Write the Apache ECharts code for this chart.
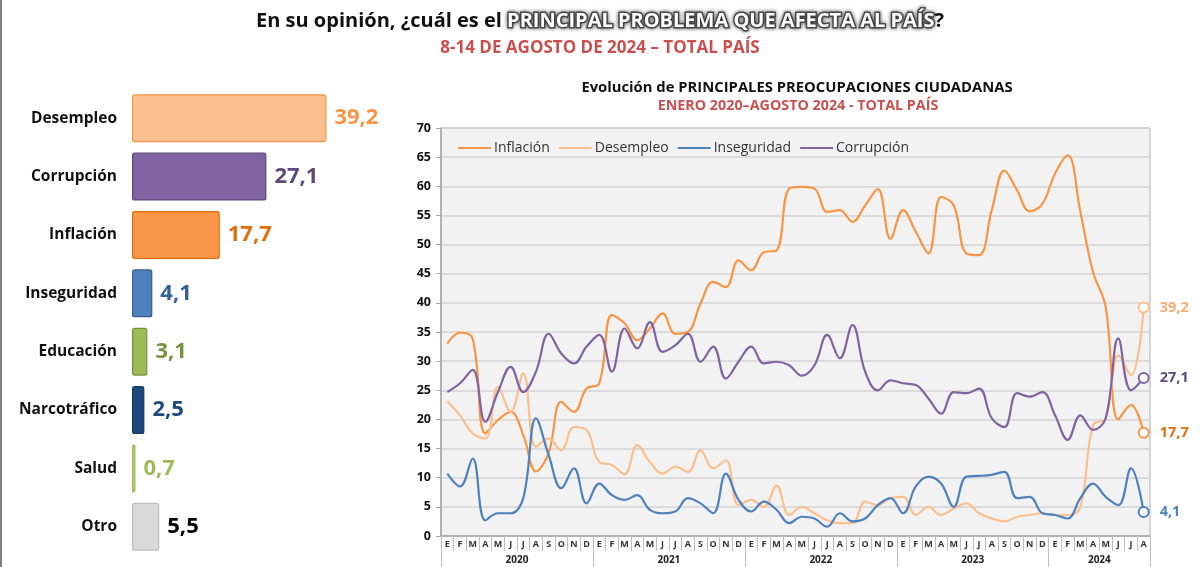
<!DOCTYPE html>
<html>
<head>
<meta charset="utf-8">
<script src="https://cdn.jsdelivr.net/npm/echarts@6/dist/echarts.min.js"></script>
<style>
  html, body { margin: 0; padding: 0; background: #fff; }
  #main { width: 1200px; height: 567px; }
</style>
</head>
<body>
<div id="main"></div>
<script>
  // left panel: August 2024 answers
  const barCategories = ['Desempleo', 'Corrupción', 'Inflación', 'Inseguridad', 'Educación', 'Narcotráfico', 'Salud', 'Otro'];
  const barValues = [39.2, 27.1, 17.7, 4.1, 3.1, 2.5, 0.7, 5.5];

  // right panel: monthly series Jan 2020 - Aug 2024
  const monthAbbr = ['E', 'F', 'M', 'A', 'M', 'J', 'J', 'A', 'S', 'O', 'N', 'D'];
  const years = ['2020', '2021', '2022', '2023', '2024'];
  const monthsPerYear = [12, 12, 12, 12, 8];
  const yTicks = [0, 5, 10, 15, 20, 25, 30, 35, 40, 45, 50, 55, 60, 65, 70];

  const inflacion = [33.0, 34.9, 33.9, 17.6, 19.9, 21.3, 17.3, 11.1, 14.2, 23.0, 21.3, 25.3,
    26.2, 37.9, 36.5, 33.6, 35.6, 38.2, 34.7, 35.0, 39.9, 43.6, 42.7, 47.3,
    45.6, 48.7, 49.0, 59.6, 59.9, 59.6, 55.6, 55.9, 53.9, 56.7, 59.5, 51.0,
    55.9, 52.2, 48.5, 58.2, 56.7, 48.5, 48.2, 55.9, 62.7, 59.3, 55.7, 57.0,
    62.2, 65.3, 55.6, 45.3, 39.3, 20.0, 22.5, 17.7];
  const desempleo = [23.1, 20.7, 17.6, 16.7, 25.6, 21.3, 27.9, 15.3, 16.7, 14.7, 18.7, 18.2,
    12.7, 12.2, 10.6, 15.6, 12.7, 10.7, 11.9, 11.0, 14.7, 11.6, 13.0, 5.3,
    6.2, 5.0, 8.7, 3.6, 5.0, 3.9, 2.7, 2.2, 2.2, 5.9, 5.3, 6.5,
    6.7, 3.6, 5.0, 3.6, 4.7, 5.6, 3.9, 3.0, 2.5, 3.3, 3.6, 3.9,
    3.6, 3.6, 5.0, 19.0, 20.2, 31.0, 27.6, 39.2];
  const inseguridad = [10.7, 8.5, 13.3, 2.7, 3.9, 3.9, 6.5, 20.2, 13.9, 8.2, 11.6, 5.6,
    9.0, 7.0, 6.2, 7.0, 4.5, 3.9, 4.2, 6.5, 5.6, 3.9, 10.7, 6.2,
    4.2, 5.9, 4.5, 2.2, 3.3, 3.0, 1.6, 3.9, 2.5, 3.0, 5.3, 6.5,
    3.9, 8.5, 10.2, 9.0, 5.0, 10.2, 10.3, 10.5, 11.0, 6.5, 6.7, 3.9,
    3.6, 3.0, 6.5, 9.0, 6.7, 5.3, 11.6, 4.1];
  const corrupcion = [24.7, 26.2, 28.5, 19.6, 24.7, 29.0, 24.7, 28.2, 34.7, 31.3, 29.6, 32.5,
    34.5, 28.2, 35.6, 32.2, 36.7, 31.6, 32.7, 34.7, 29.9, 32.5, 27.0, 29.9,
    32.5, 29.6, 29.9, 29.3, 27.5, 29.3, 34.5, 30.5, 36.2, 28.2, 25.0, 26.7,
    26.2, 25.9, 23.6, 21.0, 24.7, 24.5, 25.3, 20.2, 18.7, 24.5, 23.9, 24.7,
    20.7, 16.5, 20.7, 18.2, 20.2, 33.9, 25.0, 27.1];

  let months = [];
  let yearStarts = [0];
  monthsPerYear.forEach(function (n) {
    for (let i = 0; i < n; i++) months.push(monthAbbr[i]);
    yearStarts.push(yearStarts[yearStarts.length - 1] + n);
  });
  const yearMids = years.map(function (y, i) { return (yearStarts[i] + yearStarts[i + 1]) / 2; });

  const fmt = function (v) { return v.toFixed(1).replace('.', ','); };
  const FONT = 'Open Sans';

  const barFill = ['#fac090', '#8064a2', '#f79646', '#4f81bd', '#9bbb59', '#1f497d', '#b3cf7a', '#d9d9d9'];
  const barBorder = ['#f79646', '#5f497a', '#e46c0a', '#385d8a', '#77933c', '#17375e', '#9bbb59', '#bfbfbf'];
  const barLabel = ['#f79646', '#5f497a', '#e46c0a', '#366092', '#77933c', '#1f497d', '#9bbb59', '#000000'];

  const lineNames = ['Inflación', 'Desempleo', 'Inseguridad', 'Corrupción'];
  const lineData = [inflacion, desempleo, inseguridad, corrupcion];
  const lineColors = ['#f79646', '#fac090', '#4f81bd', '#8064a2'];
  const endLabelColors = ['#e46c0a', '#f9ad6e', '#4f81bd', '#5f497a'];

  let chart = echarts.init(document.getElementById('main'));

  let lineSeries = lineData.map(function (arr, k) {
    let last = arr.length - 1;
    return {
      name: lineNames[k],
      type: 'line',
      xAxisIndex: 0,
      yAxisIndex: 0,
      smooth: 0.4,
      symbol: 'emptyCircle',
      showAllSymbol: true,
      symbolSize: function (v, p) { return p.dataIndex === last ? 10 : 0; },
      itemStyle: { color: lineColors[k], borderWidth: 2 },
      lineStyle: { color: lineColors[k], width: 2.2 },
      label: {
        show: true,
        position: 'right',
        distance: 10,
        fontFamily: FONT,
        fontWeight: 'bold',
        fontSize: 14.5,
        color: endLabelColors[k],
        formatter: function (p) { return p.dataIndex === last ? fmt(p.value) : ''; }
      },
      emphasis: { disabled: true },
      data: arr
    };
  });

  let option = {
    animation: false,
    textStyle: { fontFamily: FONT },
    title: [{
      left: 'center',
      top: 6,
      text: '{a|En su opinión, ¿cuál es el }{b|PRINCIPAL PROBLEMA QUE AFECTA AL PAÍS}{a|?}',
      textStyle: {
        rich: {
          a: { fontFamily: FONT, fontWeight: 'bold', fontSize: 20, color: '#111' },
          b: {
            fontFamily: FONT, fontWeight: 'bold', fontSize: 20, color: '#ffffff',
            textBorderColor: '#555', textBorderWidth: 3,
            textShadowColor: 'rgba(0,0,0,0.55)', textShadowBlur: 4
          }
        }
      }
    }, {
      left: 'center',
      top: 35,
      text: '8-14 DE AGOSTO DE 2024 – TOTAL PAÍS',
      textStyle: { fontFamily: FONT, fontWeight: 'bold', fontSize: 17, color: '#c9504d' }
    }],
    graphic: [{
      type: 'rect', shape: { x: 0, y: 0, width: 2, height: 567 },
      style: { fill: '#7f7f7f' }
    }, {
      type: 'text', x: 797, y: 80,
      style: {
        text: 'Evolución de PRINCIPALES PREOCUPACIONES CIUDADANAS',
        align: 'center', fontFamily: FONT, fontWeight: 'bold', fontSize: 14.8, fill: '#111'
      }
    }, {
      type: 'text', x: 798, y: 99,
      style: {
        text: 'ENERO 2020–AGOSTO 2024 - TOTAL PAÍS',
        align: 'center', fontFamily: FONT, fontWeight: 'bold', fontSize: 14.3, fill: '#c9504d'
      }
    }],
    legend: {
      data: lineNames,
      left: 453,
      top: 136,
      icon: 'rect',
      itemWidth: 33,
      itemHeight: 2,
      itemGap: 9,
      textStyle: { fontFamily: FONT, fontSize: 14, color: '#333', padding: [0, 0, 0, -2] }
    },
    grid: [{
      left: 441, right: 50, top: 128, bottom: 31,
      show: true, backgroundColor: '#f2f2f2', borderColor: '#b0b0b0', borderWidth: 1
    }, {
      left: 132, width: 248, top: 89, height: 467
    }],
    xAxis: [{
      type: 'category',
      gridIndex: 0,
      data: months,
      boundaryGap: true,
      axisLine: { lineStyle: { color: '#a6a6a6', width: 1.5 } },
      axisTick: { show: true, interval: 0, length: 15, lineStyle: { color: '#bfbfbf' } },
      axisLabel: { interval: 0, fontFamily: FONT, fontWeight: 'bold', fontSize: 9, color: '#333', margin: 4 },
      splitLine: { show: false }
    }, {
      type: 'value',
      gridIndex: 0,
      min: 0,
      max: months.length,
      position: 'bottom',
      axisLine: { show: false },
      axisTick: { show: true, customValues: yearStarts, length: 31, lineStyle: { color: '#bfbfbf' } },
      axisLabel: {
        customValues: yearMids,
        margin: 19,
        fontFamily: FONT, fontWeight: 'bold', fontSize: 10, color: '#222',
        formatter: function (v) {
          let i = yearMids.indexOf(v);
          return i >= 0 ? years[i] : '';
        }
      },
      splitLine: { show: false }
    }, {
      type: 'value',
      gridIndex: 1,
      min: 0,
      max: 50,
      show: false
    }],
    yAxis: [{
      type: 'value',
      gridIndex: 0,
      min: yTicks[0],
      max: yTicks[yTicks.length - 1],
      interval: 5,
      axisLine: { show: true, lineStyle: { color: '#a6a6a6', width: 1.5 } },
      axisTick: { show: true, length: 5, lineStyle: { color: '#a6a6a6' } },
      axisLabel: { fontFamily: FONT, fontWeight: 'bold', fontSize: 12.5, color: '#111', margin: 10 },
      splitLine: { lineStyle: { color: '#d4d4d4', width: 1.5 } }
    }, {
      type: 'category',
      gridIndex: 1,
      inverse: true,
      data: barCategories,
      axisLine: { show: false },
      axisTick: { show: false },
      axisLabel: { fontFamily: FONT, fontWeight: 'bold', fontSize: 15.5, color: '#111', margin: 15 }
    }],
    series: [{
      type: 'bar',
      xAxisIndex: 2,
      yAxisIndex: 1,
      barWidth: 48,
      emphasis: { disabled: true },
      data: barValues.map(function (v, i) {
        return {
          value: v,
          itemStyle: { color: barFill[i], borderColor: barBorder[i], borderWidth: 1.2, borderRadius: 2 },
          label: { color: barLabel[i] }
        };
      }),
      label: {
        show: true,
        position: 'right',
        distance: 8,
        fontFamily: FONT,
        fontWeight: 'bold',
        fontSize: 22,
        formatter: function (p) { return fmt(p.value); }
      }
    }].concat(lineSeries)
  };

  chart.setOption(option);
  window.onresize = function () {
    chart.resize();
  };
</script>
</body>
</html>
